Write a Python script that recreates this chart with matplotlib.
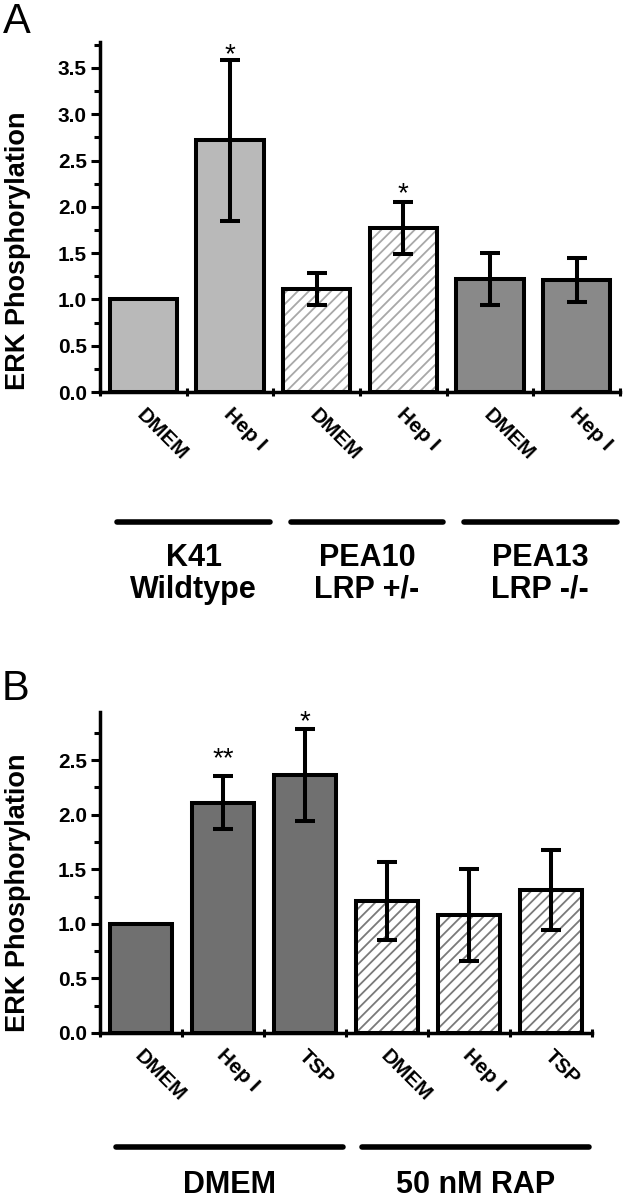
import numpy as np
import matplotlib
matplotlib.use('Agg')
import matplotlib.pyplot as plt
from matplotlib.ticker import MultipleLocator, FormatStrFormatter
from matplotlib.transforms import blended_transform_factory

plt.rcParams['font.family'] = ['Liberation Sans', 'DejaVu Sans']
plt.rcParams['hatch.linewidth'] = 1.3

# Panel A data
a_labels = ['DMEM', 'Hep I', 'DMEM', 'Hep I', 'DMEM', 'Hep I']
a_values = [1.00, 2.72, 1.11, 1.77, 1.22, 1.21]
a_errors = [0.0, 0.87, 0.17, 0.28, 0.28, 0.24]
a_stars = ['', '*', '', '*', '', '']
a_star_y = [None, 3.71, None, 2.21, None, None]
a_groups = ['K41\nWildtype', 'PEA10\nLRP +/-', 'PEA13\nLRP -/-']
a_group_sizes = [2, 2, 2]

# Panel B data
b_labels = ['DMEM', 'Hep I', 'TSP', 'DMEM', 'Hep I', 'TSP']
b_values = [1.00, 2.11, 2.36, 1.21, 1.08, 1.31]
b_errors = [0.0, 0.24, 0.42, 0.36, 0.42, 0.37]
b_stars = ['', '**', '*', '', '', '']
b_star_y = [None, 2.57, 2.91, None, None, None]
b_groups = ['DMEM', '50 nM RAP']
b_group_sizes = [3, 3]

# bar fills (None = hatched)
a_fills = ['#b9b9b9', '#b9b9b9', None, None, '#898989', '#898989']
b_fills = ['#707070', '#707070', '#707070', None, None, None]

LW = 2.9


def draw_panel(ax, labels, values, errors, stars, star_y, fills, hatch_color,
               width, ymax, groups, sizes, line_y, text_y):
    x = np.arange(len(values))
    for xi, v, e, f in zip(x, values, errors, fills):
        if f is None:
            ax.bar(xi, v, width, color='white', edgecolor=hatch_color,
                   hatch='///', linewidth=0, zorder=2)
            ax.bar(xi, v, width, fill=False, edgecolor='black',
                   linewidth=LW, zorder=3)
        else:
            ax.bar(xi, v, width, color=f, edgecolor='black',
                   linewidth=LW, zorder=3)
        if e > 0:
            ax.errorbar(xi, v, yerr=e, fmt='none', ecolor='black',
                        elinewidth=LW, capsize=7, capthick=LW, zorder=4)
    for xi, s, sy in zip(x, stars, star_y):
        if s:
            ax.annotate(s, (xi, sy), xytext=(0, -7), textcoords='offset pixels',
                        ha='center', va='center', fontsize=20)

    ax.set_xlim(-0.5, len(values) - 0.5)
    ax.set_ylim(0, ymax)
    for side in ['top', 'right']:
        ax.spines[side].set_visible(False)
    for side in ['left', 'bottom']:
        ax.spines[side].set_linewidth(2.5)

    ax.set_xticks(np.arange(-0.5, len(values), 1.0))
    ax.set_xticklabels([])
    ax.tick_params(axis='x', direction='inout', length=6, width=2.2)
    ax.yaxis.set_major_locator(MultipleLocator(0.5))
    ax.yaxis.set_minor_locator(MultipleLocator(0.25))
    ax.yaxis.set_major_formatter(FormatStrFormatter('%.1f'))
    ax.tick_params(axis='y', which='major', direction='out', length=6.5,
                   width=2.2, pad=3, labelsize=15)
    ax.tick_params(axis='y', which='minor', direction='out', length=4.5,
                   width=2.2)
    for t in ax.get_yticklabels():
        t.set_fontweight('bold')

    trans = blended_transform_factory(ax.transData, ax.transAxes)
    for xi, lab in zip(x, labels):
        ax.annotate(lab, (xi, 0), xycoords=trans, xytext=(3, -13),
                    textcoords='offset pixels', rotation=-45,
                    rotation_mode='anchor', ha='left', va='top',
                    fontsize=15, fontweight='bold')

    start = -0.5
    for g, n in zip(groups, sizes):
        x0, x1 = start + 0.2, start + n - 0.04
        ax.plot([x0, x1], [line_y, line_y], color='black', lw=4,
                solid_capstyle='round', transform=trans, clip_on=False)
        ax.text((x0 + x1) / 2, text_y, g, transform=trans, ha='center',
                va='center', fontsize=22, fontweight='bold', linespacing=1.1)
        start += n


fig = plt.figure(figsize=(6.27, 11.99), dpi=100)

ax_a = fig.add_axes([100 / 627, 1 - 392 / 1199, 520 / 627, 350 / 1199])
draw_panel(ax_a, a_labels, a_values, a_errors, a_stars, a_star_y, a_fills,
           '#a8a8a8', 0.78, 3.78, a_groups, a_group_sizes, -0.371, -0.519)

ax_b = fig.add_axes([100 / 627, 1 - 1033 / 1199, 492 / 627, 321 / 1199])
draw_panel(ax_b, b_labels, b_values, b_errors, b_stars, b_star_y, b_fills,
           '#7a7a7a', 0.75, 2.94, b_groups, b_group_sizes, -0.355, -0.474)

fig.text(0.004, 0.998, 'A', fontsize=30, va='top', ha='left')
fig.text(0.003, 0.442, 'B', fontsize=30, va='top', ha='left')
fig.text(0.028, 0.7907, 'ERK Phosphorylation', rotation=90, fontsize=19.5,
         fontweight='bold', ha='center', va='center')
fig.text(0.028, 0.2552, 'ERK Phosphorylation', rotation=90, fontsize=19.5,
         fontweight='bold', ha='center', va='center')

fig.savefig('out.png', dpi=100)
